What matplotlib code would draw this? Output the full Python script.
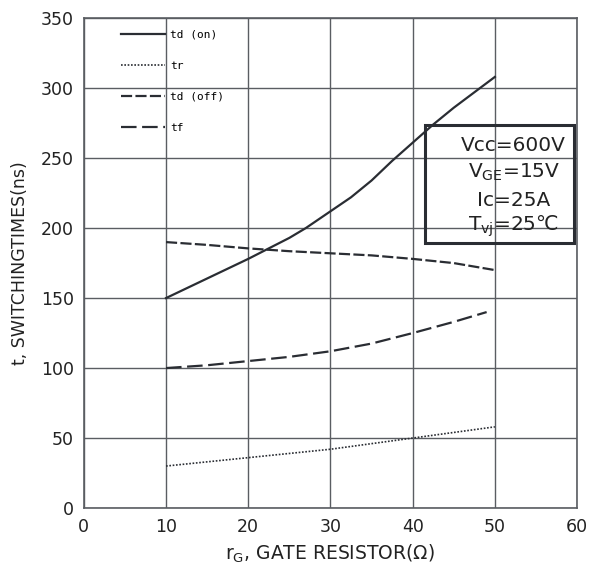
import matplotlib
matplotlib.use('Agg')
import matplotlib.pyplot as plt
from matplotlib.patches import Rectangle

rg_on = [10, 15, 20, 25, 27, 30, 32.5, 35, 37.5, 40, 42.5, 45, 47.5, 50]
td_on = [150, 164, 178, 193, 200, 212, 222, 234, 248, 261, 274, 286, 297, 308]
rg = [10, 15, 20, 25, 30, 35, 40, 45, 50]
tr = [30, 33, 36, 39, 42, 46, 50, 54, 58]
td_off = [190, 188, 185.5, 183.5, 182, 180.5, 178, 175, 170]
rg_tf = [10, 15, 20, 25, 30, 35, 40, 45, 49]
tf = [100, 102, 105, 108, 112, 117.5, 125, 133, 140]

xticks = [0, 10, 20, 30, 40, 50, 60]
yticks = [0, 50, 100, 150, 200, 250, 300, 350]

ink = '#2a2d33'
grid_c = '#5a5d62'

fig = plt.figure(figsize=(6.03, 5.67), dpi=100)
ax = fig.add_axes([0.139, 0.104, 0.818, 0.864])

ax.plot(rg_on, td_on, color=ink, lw=1.6, ls='-', label='td (on)')
ax.plot(rg, tr, color=ink, lw=1.2, ls=(0, (1, 1)), label='tr')
ax.plot(rg, td_off, color=ink, lw=1.6, ls=(0, (5, 1.5)), label='td (off)')
ax.plot(rg_tf, tf, color=ink, lw=1.6, ls=(0, (7, 2.5)), label='tf')

ax.set_xlim(0, 60)
ax.set_ylim(0, 350)
ax.set_xticks(xticks)
ax.set_yticks(yticks)
ax.tick_params(length=0, labelsize=12.5, pad=7, colors='#222222')
ax.grid(True, color=grid_c, lw=1.0)
for s in ax.spines.values():
    s.set_color(grid_c)
    s.set_linewidth(1.2)

ax.set_xlabel(r'r$_{\mathrm{G}}$, GATE RESISTOR(Ω)', fontsize=13.5, labelpad=5,
              color='#222222')
ax.set_ylabel('t, SWITCHINGTIMES(ns)', fontsize=12.5, labelpad=9,
              color='#222222')

leg = ax.legend(loc='upper left', bbox_to_anchor=(0.066, 0.986), frameon=False,
                prop={'family': 'DejaVu Sans Mono', 'size': 8},
                handlelength=4.0, handletextpad=0.45, labelspacing=1.9,
                borderaxespad=0)

box = Rectangle((41.5, 189), 18.1, 85, fill=False, ec=ink, lw=2.2, zorder=5,
                clip_on=False)
ax.add_patch(box)
box_lines = ['Vcc=600V', r'V$_{\mathrm{GE}}$=15V', 'Ic=25A', r'T$_{\mathrm{vj}}$=25℃']
box_y = [259, 240, 220, 201]
for txt, yy in zip(box_lines, box_y):
    ax.text(52.3, yy, txt, ha='center', va='center', fontsize=14.5, color='#222222',
            family=['DejaVu Sans', 'Noto Sans CJK SC'], zorder=6)

plt.savefig('out.png', dpi=100)
